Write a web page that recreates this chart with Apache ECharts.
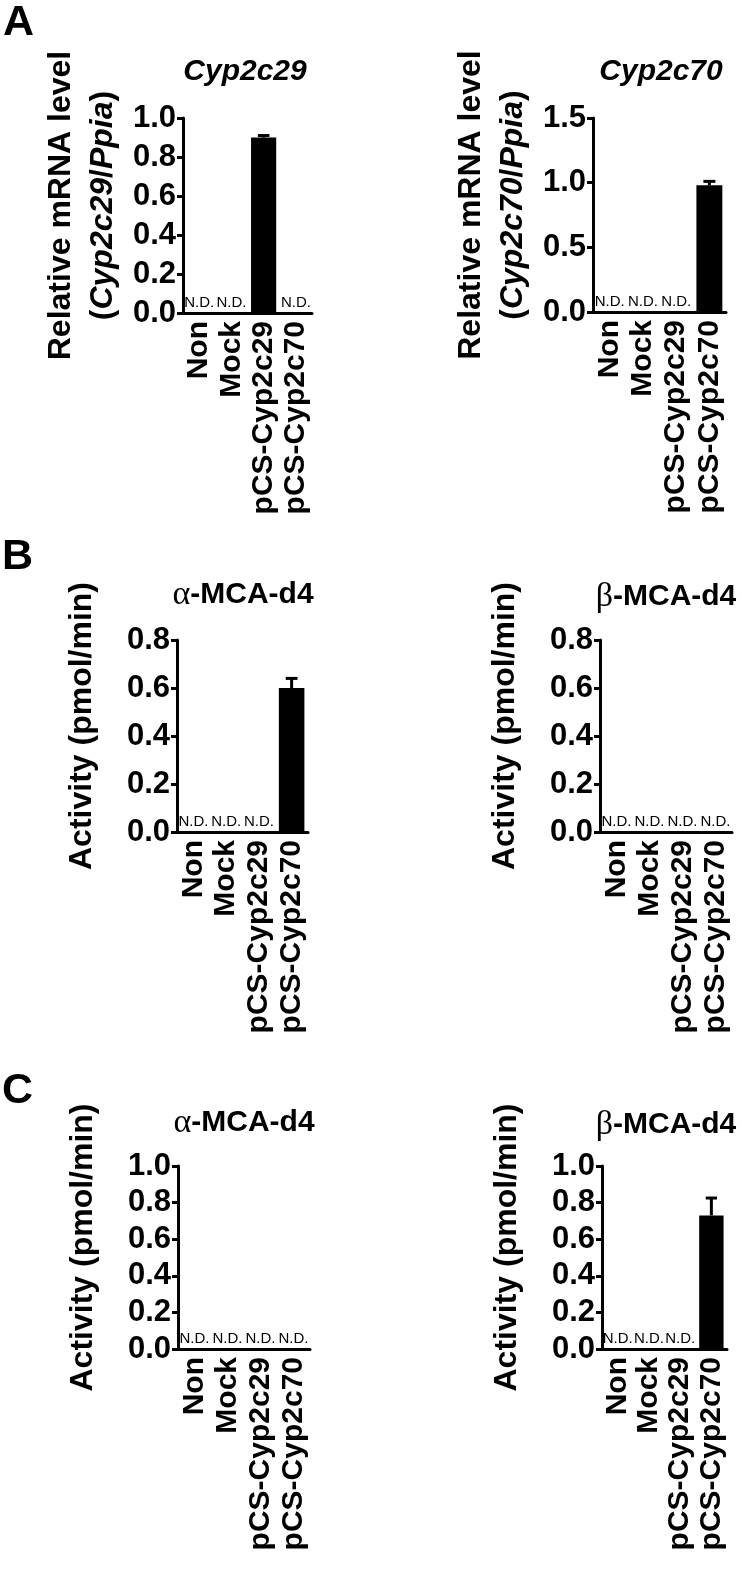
<!DOCTYPE html>
<html>
<head>
<meta charset="utf-8">
<script src="https://cdn.jsdelivr.net/npm/echarts@6/dist/echarts.min.js"></script>
<style>
html, body { margin: 0; padding: 0; background: #fff; }
#main { width: 742px; height: 1578px; }
</style>
</head>
<body>
<div id="main"></div>
<script>
// categories (x axis of every panel)
const groups = ['Non', 'Mock', 'pCS-Cyp2c29', 'pCS-Cyp2c70']
// null = N.D. (not detected)
const cyp2c29Mean = [null, null, 0.90, null]
const cyp2c29Err = [null, null, 0.01, null]
const cyp2c70Mean = [null, null, null, 0.98]
const cyp2c70Err = [null, null, null, 0.03]
const bAlphaMean = [null, null, null, 0.60]
const bAlphaErr = [null, null, null, 0.04]
const bBetaMean = [null, null, null, null]
const bBetaErr = [null, null, null, null]
const cAlphaMean = [null, null, null, null]
const cAlphaErr = [null, null, null, null]
const cBetaMean = [null, null, null, 0.73]
const cBetaErr = [null, null, null, 0.095]

const FONT = '"Liberation Sans", Arial, Helvetica, sans-serif'
const SERIF = '"Liberation Serif", "DejaVu Serif", serif'

// layout of the six small plots
const panels = [
  { mean: cyp2c29Mean, err: cyp2c29Err, max: 1.0, step: 0.2, title: 'Cyp2c29', italic: true, gene: 'Cyp2c29',
    left: 183, top: 118, width: 129, height: 195, cx: 245, ty: 57 },
  { mean: cyp2c70Mean, err: cyp2c70Err, max: 1.5, step: 0.5, title: 'Cyp2c70', italic: true, gene: 'Cyp2c70',
    left: 593, top: 118, width: 133, height: 194, cx: 661, ty: 57 },
  { mean: bAlphaMean, err: bAlphaErr, max: 0.8, step: 0.2, title: '{g|α}-MCA-d4',
    left: 177, top: 640, width: 131, height: 192, cx: 243, ty: 578 },
  { mean: bBetaMean, err: bBetaErr, max: 0.8, step: 0.2, title: '{g|β}-MCA-d4',
    left: 600, top: 640, width: 132, height: 192, cx: 666, ty: 580 },
  { mean: cAlphaMean, err: cAlphaErr, max: 1.0, step: 0.2, title: '{g|α}-MCA-d4',
    left: 178, top: 1166, width: 132, height: 183, cx: 244, ty: 1106 },
  { mean: cBetaMean, err: cBetaErr, max: 1.0, step: 0.2, title: '{g|β}-MCA-d4',
    left: 602, top: 1166, width: 125, height: 183, cx: 666, ty: 1108 }
]

const chart = echarts.init(document.getElementById('main'))

const grid = []
const xAxis = []
const yAxis = []
const series = []
const title = []

const letterStyle = { fontFamily: FONT, fontSize: 43, fontWeight: 'bold', color: '#000' }
title.push({ text: 'A', left: 3, top: 2, padding: 0, textStyle: letterStyle })
title.push({ text: 'B', left: 2, top: 536, padding: 0, textStyle: letterStyle })
title.push({ text: 'C', left: 2, top: 1070, padding: 0, textStyle: letterStyle })

panels.forEach(function (p, i) {
  grid.push({ left: p.left, top: p.top, width: p.width, height: p.height, containLabel: false, outerBoundsMode: 'none' })
  title.push({
    text: p.title, left: p.cx, top: p.ty, padding: 0, textAlign: 'center',
    textStyle: {
      fontFamily: FONT, fontSize: 30, fontWeight: 'bold', fontStyle: p.italic ? 'italic' : 'normal', color: '#000',
      rich: { g: { fontFamily: SERIF, fontSize: 34, fontWeight: 'normal', color: '#000' } }
    }
  })
  xAxis.push({
    type: 'category', gridIndex: i, data: groups,
    axisLine: { lineStyle: { color: '#000', width: 3 } },
    axisTick: { show: false },
    axisLabel: { interval: 0, rotate: 90, margin: 8, color: '#000', fontFamily: FONT, fontSize: 30, fontWeight: 'bold' },
    splitLine: { show: false }
  })
  const name = p.gene
    ? 'Relative mRNA level\n({i|' + p.gene + '}/{i|Ppia})'
    : 'Activity (pmol/min)'
  yAxis.push({
    type: 'value', gridIndex: i, min: 0, max: p.max, interval: p.step,
    name: name, nameLocation: 'middle', nameGap: p.gene ? 59 : 74, nameMoveOverlap: false,
    nameTextStyle: {
      fontFamily: FONT, fontSize: 32, fontWeight: 'bold', color: '#000', lineHeight: 42,
      padding: [0, 0, 0, 20],
      rich: { i: { fontFamily: FONT, fontSize: 32, fontWeight: 'bold', fontStyle: 'italic', color: '#000', lineHeight: 42 } }
    },
    axisLine: { show: true, lineStyle: { color: '#000', width: 3 } },
    axisTick: { show: true, length: 6, lineStyle: { color: '#000', width: 3 } },
    axisLabel: {
      margin: 7, color: '#000', fontFamily: FONT, fontSize: 31, fontWeight: 'bold',
      formatter: function (v) { return v.toFixed(1) }
    },
    splitLine: { show: false }
  })
  const mean = p.mean
  const err = p.err
  series.push({
    type: 'bar', xAxisIndex: i, yAxisIndex: i,
    data: mean.map(function (v) { return v === null ? 0 : v }),
    barWidth: '78%',
    itemStyle: { color: '#000' },
    label: {
      show: true, position: 'top', distance: 3,
      color: '#000', fontFamily: FONT, fontSize: 15,
      formatter: function (d) { return mean[d.dataIndex] === null ? 'N.D.' : '' }
    },
    silent: true, animation: false
  })
  series.push({
    type: 'custom', xAxisIndex: i, yAxisIndex: i,
    data: mean.map(function (v, k) { return v === null ? null : [k, v, err[k]] }).filter(Boolean),
    renderItem: function (params, api) {
      const x = api.value(0)
      const m = api.value(1)
      const e = api.value(2)
      const base = api.coord([x, m])
      const top = api.coord([x, m + e])
      const half = api.size([1, 0])[0] * 0.18
      return {
        type: 'group',
        children: [
          { type: 'line', shape: { x1: base[0], y1: base[1], x2: top[0], y2: top[1] }, style: { stroke: '#000', lineWidth: 3 } },
          { type: 'line', shape: { x1: top[0] - half, y1: top[1], x2: top[0] + half, y2: top[1] }, style: { stroke: '#000', lineWidth: 3 } }
        ]
      }
    },
    z: 3, silent: true, animation: false
  })
})

chart.setOption({
  backgroundColor: '#fff',
  animation: false,
  title: title,
  grid: grid,
  xAxis: xAxis,
  yAxis: yAxis,
  series: series
})
</script>
</body>
</html>
